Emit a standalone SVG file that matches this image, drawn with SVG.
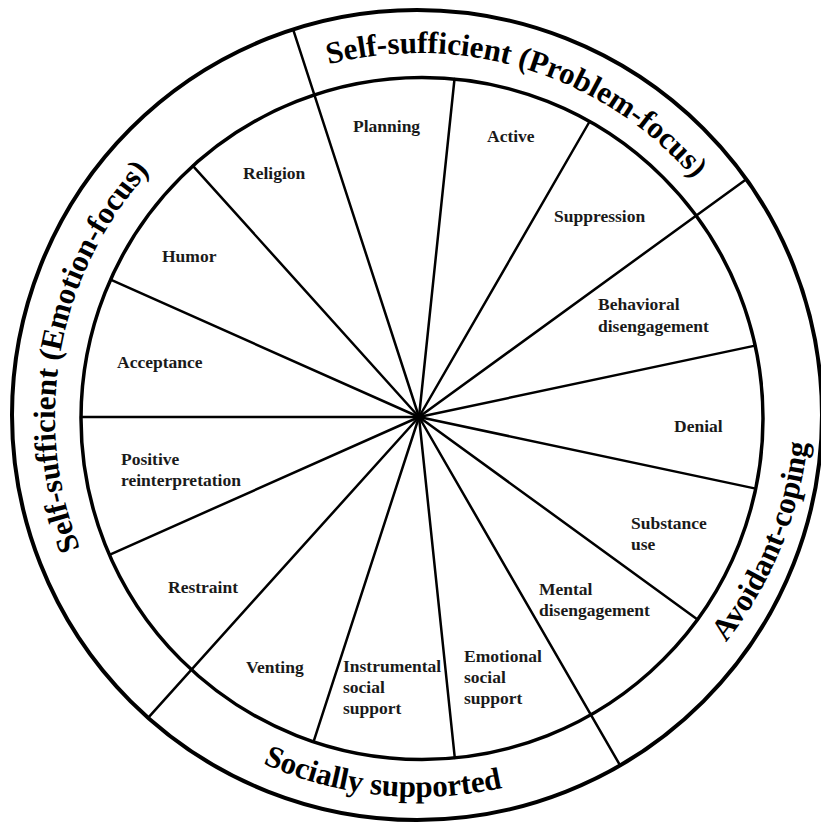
<svg xmlns="http://www.w3.org/2000/svg" width="821" height="829" viewBox="0 0 821 829">
<style>
.ring{fill:none;stroke:#000}
.spoke{stroke:#000;stroke-width:2.5;stroke-linecap:round}
.lbl{font-family:"Liberation Serif","Times New Roman",serif;font-weight:bold;font-size:17.5px;fill:#1a1a1a}
.cat{font-family:"Liberation Serif","Times New Roman",serif;font-weight:bold;font-size:31px;fill:#000}
</style>
<defs>
<path id="pProb" d="M 56,416 A 363 363 0 0 1 782,416"/>
<path id="pEmo" d="M 419,780 A 364 364 0 0 1 419,52"/>
<path id="pSoc" d="M 38,416 A 381 381 0 0 0 800,416"/>
<path id="pAvo" d="M 419,791 A 391 391 0 0 0 419,9"/>
</defs>
<rect width="821" height="829" fill="#fff"/>
<g id="rings">
<circle class="ring" cx="417" cy="415" r="405" stroke-width="4"/>
<circle class="ring" cx="422" cy="418.5" r="341" stroke-width="3.5"/>
</g>
<g id="connectors">
<line class="spoke" x1="419" y1="417" x2="755.1" y2="345.6"/>
<line class="spoke" x1="419" y1="417" x2="746.3" y2="179.2"/>
<line class="spoke" x1="419" y1="417" x2="589.6" y2="121.5"/>
<line class="spoke" x1="419" y1="417" x2="454.5" y2="79"/>
<line class="spoke" x1="419" y1="417" x2="293.1" y2="29.4"/>
<line class="spoke" x1="419" y1="417" x2="192.9" y2="165.9"/>
<line class="spoke" x1="419" y1="417" x2="110.6" y2="279.7"/>
<line class="spoke" x1="419" y1="417" x2="81" y2="417"/>
<line class="spoke" x1="419" y1="417" x2="109.4" y2="554.8"/>
<line class="spoke" x1="419" y1="417" x2="148.1" y2="717.8"/>
<line class="spoke" x1="419" y1="417" x2="313.5" y2="741.8"/>
<line class="spoke" x1="419" y1="417" x2="454.8" y2="757.9"/>
<line class="spoke" x1="419" y1="417" x2="620.1" y2="765.4"/>
<line class="spoke" x1="419" y1="417" x2="697.5" y2="619.4"/>
<line class="spoke" x1="419" y1="417" x2="755.7" y2="488.6"/>
</g>
<g id="cat-problem"><text class="cat"><textPath href="#pProb" startOffset="59.67%" text-anchor="middle">Self-sufficient (Problem-focus)</textPath></text></g>
<g id="cat-emotion"><text class="cat"><textPath href="#pEmo" startOffset="55.8%" text-anchor="middle">Self-sufficient (Emotion-focus)</textPath></text></g>
<g id="cat-social"><text class="cat"><textPath href="#pSoc" startOffset="46.8%" text-anchor="middle">Socially supported</textPath></text></g>
<g id="cat-avoidant"><text class="cat"><textPath href="#pAvo" startOffset="37.6%" text-anchor="middle">Avoidant-coping</textPath></text></g>
<g id="planning"><text class="lbl" x="353" y="132">Planning</text></g>
<g id="active"><text class="lbl" x="487" y="142">Active</text></g>
<g id="suppression"><text class="lbl" x="554" y="222">Suppression</text></g>
<g id="behavioral"><text class="lbl" x="598" y="310">Behavioral<tspan x="598" dy="22">disengagement</tspan></text></g>
<g id="denial"><text class="lbl" x="674" y="432">Denial</text></g>
<g id="substance"><text class="lbl" x="631" y="529">Substance<tspan x="631" dy="21">use</tspan></text></g>
<g id="mental"><text class="lbl" x="539" y="595">Mental<tspan x="539" dy="21">disengagement</tspan></text></g>
<g id="emotional"><text class="lbl" x="464" y="662">Emotional<tspan x="464" dy="21">social</tspan><tspan x="464" dy="21">support</tspan></text></g>
<g id="instrumental"><text class="lbl" x="343" y="672">Instrumental<tspan x="343" dy="21">social</tspan><tspan x="343" dy="21">support</tspan></text></g>
<g id="venting"><text class="lbl" x="246" y="673">Venting</text></g>
<g id="restraint"><text class="lbl" x="168" y="593">Restraint</text></g>
<g id="positive"><text class="lbl" x="121" y="465">Positive<tspan x="121" dy="21">reinterpretation</tspan></text></g>
<g id="acceptance"><text class="lbl" x="117" y="368">Acceptance</text></g>
<g id="humor"><text class="lbl" x="162" y="262">Humor</text></g>
<g id="religion"><text class="lbl" x="243" y="179">Religion</text></g>
</svg>
